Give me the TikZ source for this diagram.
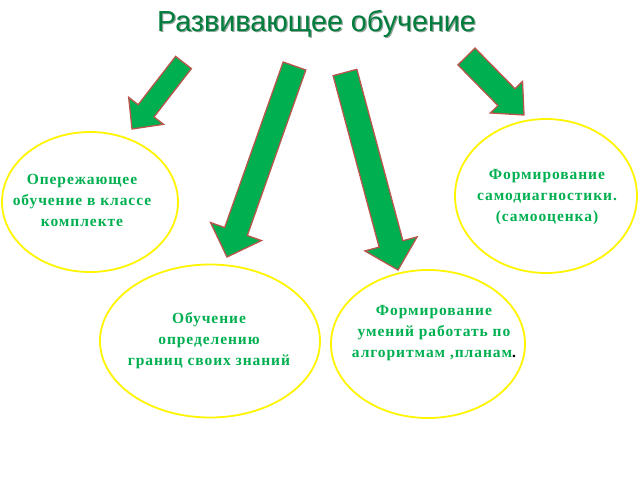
\documentclass[tikz,border=0pt]{standalone}
\usepackage{fontspec}
\setmainfont{Liberation Serif}
\newfontfamily\titlefont{Liberation Sans}
\newfontfamily\bodyfont[LetterSpace=6]{Liberation Serif}
\usetikzlibrary{calc,shapes.geometric}
\definecolor{pgreen}{RGB}{0,176,80}
\definecolor{tgreen}{RGB}{0,125,60}
\definecolor{aedge}{RGB}{185,85,75}
\definecolor{eyellow}{RGB}{255,245,0}
\newcommand\fatarrow[5]{%
  \coordinate (#1b) at ($(#2)!#5!(#1)$);
  \draw[fatarr] ($(#1)!#3!90:(#2)$) -- ($(#1b)!#3!-90:(#1)$) -- ($(#1b)!#4!-90:(#1)$)
    -- (#2) -- ($(#1b)!#4!90:(#1)$) -- ($(#1b)!#3!90:(#1)$) -- ($(#1)!#3!-90:(#2)$) -- cycle;}
\begin{document}
\begin{tikzpicture}[x=1pt,y=-1pt,
  fatarr/.style={fill=pgreen,draw=aedge,line width=1.3pt,line join=miter},
  ell/.style={ellipse,draw=eyellow,line width=1.8pt,inner sep=0pt},
  ttl/.style={font=\titlefont\fontsize{29}{32}\selectfont,xscale=0.99,inner sep=0pt},
  lbl/.style={align=center,text=pgreen,font=\bodyfont\bfseries\fontsize{15.5}{21}\selectfont,inner sep=0pt}]
\useasboundingbox[fill=white] (0,0) rectangle (640,480);
% title
\node[ttl,text=black!60!tgreen,opacity=0.45] (tsh) at (317.8,24.8) {Развивающее обучение};
\node[ttl,text=tgreen] (title) at (316.5,23.5) {Развивающее обучение};
% ellipses
\node[ell,minimum width=176pt,minimum height=140pt] (e1) at (90,202) {};
\node[ell,minimum width=182pt,minimum height=154pt] (e2) at (546,196) {};
\node[ell,minimum width=220pt,minimum height=153pt] (e3) at (210,341) {};
\node[ell,minimum width=194pt,minimum height=148pt] (e4) at (428,344) {};
% labels
\node[lbl] (l1) at (82,200) {Опережающее\\обучение в классе\\комплекте};
\node[lbl] (l2) at (547,197) {Формирование\\самодиагностики.\\(самооценка)};
\node[lbl] (l3) at (209,341) {Обучение\\определению\\границ своих знаний};
\node[lbl] (l4) at (434,333) {Формирование\\умений работать по\\алгоритмам ,планам\textcolor{black}{.}};
% arrows
\coordinate (a1) at (183.5,62.5); \coordinate (p1) at (132,129);
\coordinate (a2) at (294.5,66);   \coordinate (p2) at (227,257);
\coordinate (a3) at (345,72.5);   \coordinate (p3) at (398,270);
\coordinate (a4) at (466.5,56.5); \coordinate (p4) at (524,115);
\fatarrow{a1}{p1}{10pt}{22pt}{23pt}
\fatarrow{a2}{p2}{12pt}{27pt}{27pt}
\fatarrow{a3}{p3}{12.3pt}{27pt}{27pt}
\fatarrow{a4}{p4}{12pt}{22.5pt}{25pt}
\end{tikzpicture}
\end{document}
